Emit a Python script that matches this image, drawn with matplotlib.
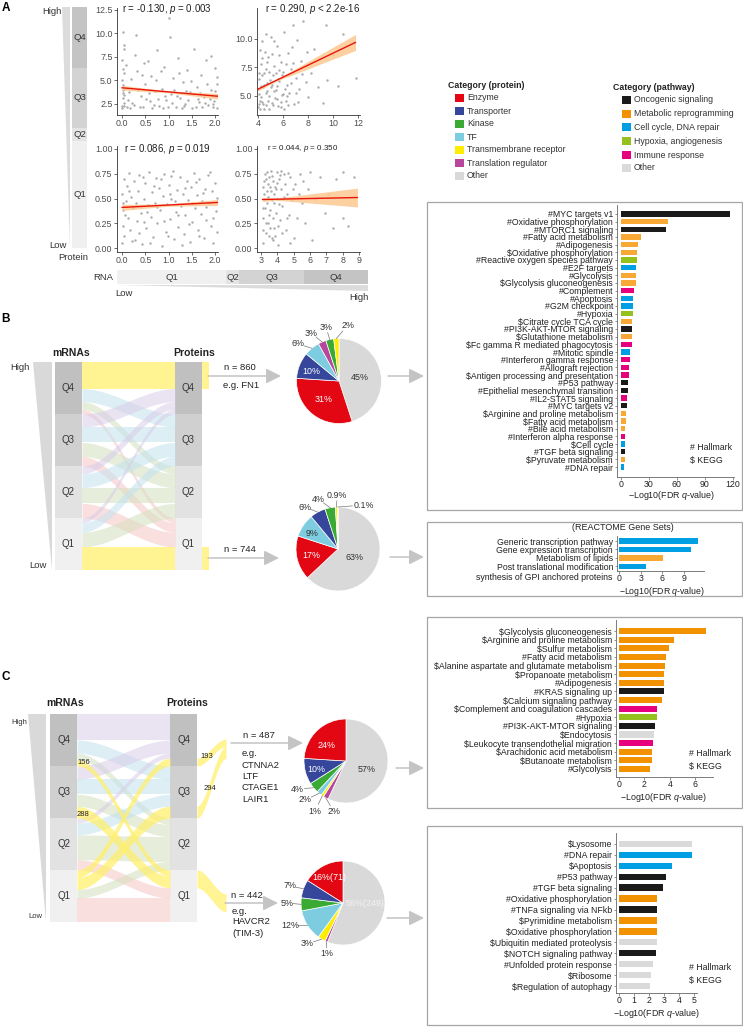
import numpy as np
import matplotlib
matplotlib.use('Agg')
import matplotlib.pyplot as plt
from matplotlib.patches import Rectangle, Polygon

plt.rcParams['font.family'] = ['Liberation Sans', 'DejaVu Sans']
plt.rcParams['mathtext.fontset'] = 'custom'
plt.rcParams['mathtext.rm'] = 'Liberation Sans'
plt.rcParams['mathtext.it'] = 'Liberation Sans:italic'

# ======================= DATA =======================
# Panel A scatter clouds
tl_pts = [(0.0,2.0),(0.02,3.1),(0.01,4.5),(0.03,5.8),(0.0,7.2),(0.05,8.3),(0.02,10.1),(0.04,2.6),
          (0.1,2.2),(0.15,3.8),(0.2,5.1),(0.25,2.4),(0.3,9.8),(0.33,6.0),(0.4,3.3),(0.45,2.1),
          (0.5,4.6),(0.55,7.0),(0.6,2.8),(0.62,5.5),(0.7,3.9),(0.75,8.2),(0.8,2.3),(0.85,4.1),
          (0.9,6.4),(0.95,2.9),(1.0,11.6),(1.02,9.6),(1.05,3.5),(1.1,5.2),(1.15,2.2),(1.2,7.4),
          (1.25,3.1),(1.3,4.8),(1.35,2.5),(1.4,6.1),(1.45,3.7),(1.5,2.0),(1.55,8.3),(1.6,4.3),
          (1.65,2.7),(1.7,5.6),(1.75,3.2),(1.8,7.2),(1.85,2.4),(1.9,4.0),(1.95,2.1),(2.0,6.3),
          (2.02,3.4),(2.04,2.0),(0.08,6.6),(0.12,2.9),(0.35,4.0),(0.65,2.0),(1.12,4.0),(1.62,3.0),
          (1.92,7.6),(0.48,6.8),(0.78,3.0),(1.28,2.0),(0.01,3.6),(0.03,2.3),(0.0,5.0),(0.18,2.0),
          (0.58,3.6),(0.88,2.0),(1.38,3.9),(1.72,2.2),(1.98,2.8),(2.03,4.6),
          (0.0,2.3),(0.02,4.0),(0.01,6.2),(0.03,8.8),(0.05,3.4),(0.22,2.6),(0.38,2.2),(0.52,3.0),
          (0.68,2.4),(0.72,5.0),(0.92,3.3),(0.98,2.2),(1.08,2.6),(1.18,3.3),(1.32,2.3),(1.42,2.9),
          (1.52,3.5),(1.58,2.2),(1.68,3.6),(1.78,2.6),(1.88,3.0),(1.96,2.5),(2.0,3.9),(2.04,5.3),
          (0.27,7.7),(0.42,5.6),(0.83,6.0),(1.22,5.8),(1.47,4.9),(1.83,4.6)]
tr_pts = [(4.0,4.0),(4.1,5.2),(4.05,6.5),(4.2,7.8),(4.15,9.0),(4.3,4.5),(4.4,5.8),(4.5,7.0),
          (4.6,4.2),(4.7,6.1),(4.8,8.4),(4.9,5.0),(5.0,10.2),(5.1,4.4),(5.2,6.8),(5.3,7.6),
          (5.4,5.5),(5.5,9.4),(5.6,4.1),(5.7,6.3),(5.8,8.0),(5.9,5.1),(6.0,7.1),(6.1,10.6),
          (6.2,4.6),(6.3,6.0),(6.4,8.8),(6.5,5.3),(6.6,7.4),(6.8,11.2),(6.9,4.3),(7.0,6.6),
          (7.1,9.9),(7.3,5.6),(7.4,8.1),(7.6,11.6),(7.8,6.2),(8.0,4.9),(8.2,7.0),(8.5,9.1),
          (8.8,5.8),(9.2,4.4),(9.5,6.4),(9.4,11.2),(10.0,8.6),(10.4,5.9),(10.8,10.4),(11.8,6.6),
          (4.25,4.9),(4.55,8.9),(4.85,3.9),(5.25,9.8),(5.65,7.3),(6.05,3.9),(6.35,5.0),(6.75,9.3),
          (7.2,4.5),(7.9,8.9),(4.75,5.4),(5.15,6.0),(4.02,5.6),(4.12,4.6),(4.35,6.8),(4.45,3.9),
          (4.65,7.4),(4.95,6.4),(5.35,4.8),(5.55,5.9),(5.85,4.5),(6.15,5.6),
          (4.05,4.3),(4.1,7.0),(4.2,5.9),(4.3,8.3),(4.4,4.3),(4.5,6.0),(4.6,5.3),(4.7,8.0),
          (4.8,4.6),(4.9,7.1),(5.0,5.8),(5.1,8.7),(5.2,4.2),(5.3,5.4),(5.4,7.0),(5.5,4.7),
          (5.6,6.5),(5.7,8.6),(5.8,4.0),(5.9,6.8),(6.0,5.2),(6.2,7.8),(6.4,4.2),(6.6,6.1),
          (6.8,7.9),(7.0,5.3),(7.5,6.9),(4.15,3.85),(4.35,9.8),(4.6,10.4)]
bl_pts = [(0.00,0.05),(0.01,0.22),(0.02,0.38),(0.00,0.55),(0.03,0.70),(0.05,0.12),(0.08,0.47),
          (0.10,0.63),(0.12,0.30),(0.15,0.76),(0.18,0.18),(0.20,0.52),(0.23,0.40),(0.26,0.68),
          (0.28,0.08),(0.31,0.27),(0.34,0.58),(0.37,0.74),(0.40,0.35),(0.43,0.04),(0.46,0.49),
          (0.49,0.66),(0.52,0.20),(0.55,0.43),(0.58,0.77),(0.61,0.31),(0.64,0.57),(0.67,0.11),
          (0.70,0.45),(0.73,0.71),(0.76,0.25),(0.79,0.61),(0.82,0.38),(0.85,0.02),(0.88,0.53),
          (0.91,0.75),(0.94,0.16),(0.97,0.44),(1.00,0.64),(1.03,0.29),(1.06,0.50),(1.09,0.78),
          (1.12,0.09),(1.15,0.36),(1.18,0.59),(1.21,0.21),(1.24,0.72),(1.27,0.42),(1.30,0.55),
          (1.33,0.14),(1.36,0.33),(1.39,0.68),(1.42,0.48),(1.45,0.06),(1.48,0.62),(1.51,0.26),
          (1.54,0.76),(1.57,0.40),(1.60,0.54),(1.63,0.18),(1.66,0.70),(1.69,0.34),(1.72,0.47),
          (1.75,0.10),(1.78,0.60),(1.81,0.28),(1.84,0.74),(1.87,0.45),(1.90,0.22),(1.93,0.58),
          (1.96,0.05),(1.99,0.66),(2.02,0.37),(2.04,0.51),
          (0.06,0.33),(0.14,0.58),(0.21,0.07),(0.29,0.45),(0.36,0.15),(0.44,0.72),(0.53,0.36),
          (0.60,0.05),(0.68,0.63),(0.75,0.41),(0.83,0.70),(0.90,0.27),(0.98,0.12),(1.05,0.73),
          (1.13,0.47),(1.20,0.33),(1.28,0.03),(1.35,0.61),(1.43,0.24),(1.50,0.45),(1.58,0.67),
          (1.65,0.12),(1.73,0.56),(1.80,0.41),(1.88,0.77),(1.95,0.30),(2.03,0.16),(0.02,0.45),
          (0.47,0.26),(1.02,0.55)]
br_pts = [(3.1,0.05),(3.15,0.3),(3.2,0.55),(3.25,0.75),(3.3,0.15),(3.35,0.45),(3.4,0.65),
          (3.45,0.25),(3.5,0.72),(3.55,0.38),(3.6,0.58),(3.65,0.1),(3.7,0.48),(3.75,0.68),
          (3.8,0.2),(3.85,0.62),(3.9,0.35),(3.95,0.77),(4.0,0.5),(4.05,0.03),(4.1,0.7),
          (4.15,0.28),(4.2,0.6),(4.3,0.42),(4.4,0.75),(4.5,0.18),(4.6,0.55),(4.7,0.33),
          (4.8,0.72),(4.9,0.48),(5.0,0.1),(5.1,0.65),(5.2,0.3),(5.4,0.75),(5.5,0.45),(5.7,0.25),
          (5.9,0.6),(6.0,0.77),(6.1,0.08),(6.3,0.5),(6.6,0.72),(6.9,0.35),(7.1,0.55),(7.4,0.2),
          (7.6,0.7),(8.0,0.3),(8.0,0.77),(8.3,0.22),(8.7,0.72),(3.12,0.62),(3.22,0.4),(3.32,0.7),
          (3.42,0.52),(3.52,0.12),(3.62,0.78),(3.72,0.3),(3.82,0.45),(3.92,0.6),(4.02,0.22),
          (4.25,0.78),
          (3.1,0.4),(3.18,0.68),(3.28,0.25),(3.38,0.58),(3.48,0.33),(3.58,0.2),(3.68,0.73),
          (3.78,0.55),(3.88,0.12),(3.98,0.66),(4.08,0.44),(4.18,0.74),(4.28,0.15),(4.38,0.52),
          (4.48,0.65),(4.58,0.3),(4.68,0.76),(4.78,0.05),(4.95,0.6),(5.3,0.55),(5.6,0.68),
          (3.14,0.18),(3.34,0.77),(3.54,0.62),(3.74,0.08)]
# regression lines and confidence band half-widths
tl_fit = dict(x=[0.0, 2.05], y=[4.2, 3.3], cx=[0.0, 1.0, 2.05], hw=[0.25, 0.1, 0.3])
tr_fit = dict(x=[4.0, 11.8], y=[5.6, 9.7], cx=[4.0, 5.5, 11.8], hw=[0.15, 0.08, 0.7])
bl_fit = dict(x=[0.0, 2.05], y=[0.41, 0.46], cx=[0.0, 1.0, 2.05], hw=[0.03, 0.012, 0.03])
br_fit = dict(x=[3.1, 8.9], y=[0.49, 0.51], cx=[3.1, 3.9, 8.9], hw=[0.02, 0.01, 0.095])
tl_title = r'r = -0.130, $p$ = 0.003'
tr_title = r'r = 0.290, $p$ < 2.2e-16'
bl_title = r'r = 0.086, $p$ = 0.019'
br_title = r'r = 0.044, $p$ = 0.350'

# Legends
protein_cats = ['Enzyme', 'Transporter', 'Kinase', 'TF', 'Transmembrane receptor',
                'Translation regulator', 'Other']
protein_cols = ['#E30613', '#36479B', '#3AAA35', '#7ECCE0', '#FFED00', '#B7479C', '#D9D9D9']
pathway_cats = ['Oncogenic signaling', 'Metabolic reprogramming', 'Cell cycle, DNA repair',
                'Hypoxia, angiogenesis', 'Immune response', 'Other']
pathway_keys = ['onc', 'met', 'cc', 'hyp', 'imm', 'oth']
pathway_cols = ['#1A1A1A', '#F39200', '#009FE3', '#95C11F', '#E6007E', '#DADADA']

# Sankey flow matrices: rows mRNA Q4..Q1, columns protein Q4..Q1
B_flow = np.array([[860, 420, 250, 150],
                   [420, 500, 450, 310],
                   [250, 450, 510, 470],
                   [150, 310, 470, 744]])
B_highlight = [(0, 0), (3, 3)]
C_flow = np.array([[650, 330, 164, 156],
                   [330, 380, 302, 288],
                   [127, 296, 621, 256],
                   [193, 294, 213, 600]])
C_highlight = [(3, 0), (3, 1), (0, 3), (1, 3)]

# Pies (clockwise from 12 o'clock)
pieB1_pct = [45, 31, 10, 6, 3, 3, 2]
pieB1_cat = ['Other', 'Enzyme', 'Transporter', 'TF', 'Translation regulator', 'Kinase', 'Transmembrane receptor']
pieB2_pct = [63, 17, 9, 6, 4, 0.9, 0.1]
pieB2_cat = ['Other', 'Enzyme', 'TF', 'Transporter', 'Kinase', 'Transmembrane receptor', 'Translation regulator']
pieC1_pct = [57, 2, 1, 2, 4, 10, 24]
pieC1_cat = ['Other', 'Translation regulator', 'Transmembrane receptor', 'TF', 'Kinase', 'Transporter', 'Enzyme']
pieC2_pct = [56, 1, 3, 12, 5, 7, 16]
pieC2_cat = ['Other', 'Translation regulator', 'Transmembrane receptor', 'TF', 'Kinase', 'Transporter', 'Enzyme']

# Enrichment bar charts
top_labels = ['#MYC targets v1', '#Oxidative phosphorylation', '#MTORC1 signaling', '#Fatty acid metabolism',
              '#Adipogenesis', '$Oxidative phosphorylation', '#Reactive oxygen species pathway', '#E2F targets',
              '#Glycolysis', '$Glycolysis gluconeogenesis', '#Complement', '#Apoptosis', '#G2M checkpoint',
              '#Hypoxia', '$Citrate cycle TCA cycle', '#PI3K-AKT-MTOR signaling', '$Glutathione metabolism',
              '$Fc gamma R mediated phagocytosis', '#Mitotic spindle', '#Interferon gamma response',
              '#Allograft rejection', '$Antigen processing and presentation', '#P53 pathway',
              '#Epithelial mesenchymal transition', '#IL2-STAT5 signaling', '#MYC targets v2',
              '$Arginine and proline metabolism', '$Fatty acid metabolism', '#Bile acid metabolism',
              '#Interferon alpha response', '$Cell cycle', '#TGF beta signaling', '$Pyruvate metabolism',
              '#DNA repair']
top_vals = [117, 51, 48, 21, 18, 17, 17, 16, 16, 16, 14, 13, 12.5, 12.5, 12, 12, 12, 11.5, 10, 10,
            9, 9, 8, 7.5, 6.5, 6, 5, 5, 4.5, 4, 4, 4, 4, 3.5]
top_cats = ['onc', 'met', 'onc', 'met', 'met', 'met', 'hyp', 'cc', 'met', 'met', 'imm', 'cc', 'cc',
            'hyp', 'met', 'onc', 'met', 'imm', 'cc', 'imm', 'imm', 'imm', 'onc', 'onc', 'imm', 'onc',
            'met', 'met', 'met', 'imm', 'cc', 'onc', 'met', 'cc']

reac_labels = ['Generic transcription pathway', 'Gene expression transcription', 'Metabolism of lipids',
               'Post translational modification', 'synthesis of GPI anchored proteins']
reac_vals = [11.0, 10.0, 6.1, 3.8, 0.0]
reac_cats = ['cc', 'cc', 'met', 'cc', 'cc']

c1_labels = ['$Glycolysis gluconeogenesis', '$Arginine and proline metabolism', '$Sulfur metabolism',
             '#Fatty acid metabolism', '$Alanine aspartate and glutamate metabolism', '$Propanoate metabolism',
             '#Adipogenesis', '#KRAS signaling up', '$Calcium signaling pathway',
             '$Complement and coagulation cascades', '#Hypoxia', '#PI3K-AKT-MTOR signaling', '$Endocytosis',
             '$Leukocyte transendothelial migration', '$Arachidonic acid metabolism', '$Butanoate metabolism',
             '#Glycolysis']
c1_vals = [6.85, 4.3, 3.95, 3.7, 3.6, 3.55, 3.55, 3.55, 3.4, 3.0, 3.0, 2.85, 2.75, 2.65, 2.6, 2.6, 2.45]
c1_cats = ['met', 'met', 'met', 'met', 'met', 'met', 'met', 'onc', 'met', 'imm', 'hyp', 'onc', 'oth',
           'imm', 'met', 'met', 'met']

c2_labels = ['$Lysosome', '#DNA repair', '$Apoptosis', '#P53 pathway', '#TGF beta signaling',
             '#Oxidative phosphorylation', '#TNFa signaling via NFkb', '$Pyrimidine metabolism',
             '$Oxidative phosphorylation', '$Ubiquitin mediated proteolysis', '$NOTCH signaling pathway',
             '#Unfolded protein response', '$Ribosome', '$Regulation of autophagy']
c2_vals = [4.85, 4.85, 3.5, 3.15, 2.95, 2.55, 2.55, 2.55, 2.55, 2.5, 2.45, 2.25, 2.1, 2.05]
c2_cats = ['oth', 'cc', 'cc', 'onc', 'onc', 'met', 'onc', 'met', 'met', 'oth', 'onc', 'oth', 'oth', 'oth']

# ======================= FIGURE =======================
W, H = 743, 1027
fig = plt.figure(figsize=(W / 100, H / 100), dpi=100)


def px_axes(x0, y0, x1, y1):
    return fig.add_axes([x0 / W, 1 - y1 / H, (x1 - x0) / W, (y1 - y0) / H])


bg = px_axes(0, 0, W, H)
bg.set_xlim(0, W)
bg.set_ylim(H, 0)
bg.axis('off')

TXT = '#222222'
pcol = dict(zip(protein_cats, protein_cols))
pwcol = dict(zip(pathway_keys, pathway_cols))


def T(x, y, s, fs=6.5, ha='center', va='center', **kw):
    kw.setdefault('color', TXT)
    bg.text(x, y, s, fontsize=fs, ha=ha, va=va, **kw)


def rect(x0, y0, x1, y1, **kw):
    bg.add_patch(Rectangle((x0, y0), x1 - x0, y1 - y0, **kw))


# ---------- Panel labels ----------
T(6, 8, 'A', fs=8.5, weight='bold', color='black')
T(6, 319, 'B', fs=8.5, weight='bold', color='black')
T(6, 677, 'C', fs=8.5, weight='bold', color='black')

# ---------- Panel A: quartile strips ----------
qgray = {'Q4': '#C4C4C4', 'Q3': '#D3D3D3', 'Q2': '#E4E4E4', 'Q1': '#F0F0F0'}
bg.add_patch(Polygon([(62, 7), (70, 7), (70, 248)], closed=True, color='#DCDCDC', lw=0))
for q, y0, y1 in [('Q4', 7, 68), ('Q3', 68, 128), ('Q2', 128, 141), ('Q1', 141, 248)]:
    rect(72, y0, 87, y1, color=qgray[q], lw=0)
    T(79.5, (y0 + y1) / 2, q, fs=6.8, color='#333333')
T(52, 12, 'High', fs=6.8, color='#333333')
T(58, 245, 'Low', fs=6.8, color='#333333')
T(73, 258, 'Protein', fs=6.8, color='#333333')

for q, x0, x1 in [('Q1', 117, 226), ('Q2', 226, 239), ('Q3', 239, 304), ('Q4', 304, 368)]:
    rect(x0, 270, x1, 284, color=qgray[q], lw=0)
    T((x0 + x1) / 2, 277, q, fs=6.8, color='#333333')
bg.add_patch(Polygon([(117, 285), (368, 285), (368, 291)], closed=True, color='#DCDCDC', lw=0))
T(103, 277, 'RNA', fs=6.8, color='#333333')
T(124, 293, 'Low', fs=6.8, color='#333333')
T(359, 297, 'High', fs=6.8, color='#333333')


def scatter_panel(box, pts, xlim, ylim, xticks, xtl, yticks, ytl, fit):
    ax = px_axes(*box)
    p = np.array(pts)
    ax.scatter(p[:, 0], p[:, 1], s=3.0, c='#ABABAB', linewidths=0, zorder=2)
    xs = np.linspace(fit['x'][0], fit['x'][1], 60)
    ys = np.interp(xs, fit['x'], fit['y'])
    hw = np.interp(xs, fit['cx'], fit['hw'])
    ax.fill_between(xs, ys - hw, ys + hw, color='#FCC88F', alpha=0.85, lw=0, zorder=3)
    ax.plot(fit['x'], fit['y'], color='#E8160C', lw=1.0, zorder=4)
    ax.set_xlim(*xlim)
    ax.set_ylim(*ylim)
    ax.set_xticks(xticks)
    ax.set_xticklabels(xtl, fontsize=6.4)
    ax.set_yticks(yticks)
    ax.set_yticklabels(ytl, fontsize=6.4)
    for s in ['top', 'right']:
        ax.spines[s].set_visible(False)
    for s in ['left', 'bottom']:
        ax.spines[s].set_color('#333333')
        ax.spines[s].set_linewidth(0.6)
    ax.tick_params(length=2, width=0.5, pad=1.2, colors='#333333', labelcolor='#4D4D4D')
    ax.patch.set_alpha(0)
    return ax


scatter_panel((117, 8, 218, 115), tl_pts, (-0.11, 2.06), (1.3, 12.7), [0, 0.5, 1, 1.5, 2],
              ['0.0', '0.5', '1.0', '1.5', '2.0'], [2.5, 5, 7.5, 10, 12.5],
              ['2.5', '5.0', '7.5', '10.0', '12.5'], tl_fit)
scatter_panel((257, 8, 360, 115), tr_pts, (3.92, 12.16), (3.33, 12.72), [4, 6, 8, 10, 12],
              ['4', '6', '8', '10', '12'], [5, 7.5, 10], ['5.0', '7.5', '10.0'], tr_fit)
scatter_panel((117, 146, 218, 252), bl_pts, (-0.11, 2.06), (-0.04, 1.03), [0, 0.5, 1, 1.5, 2],
              ['0.0', '0.5', '1.0', '1.5', '2.0'], [0, 0.25, 0.5, 0.75, 1.0],
              ['0.00', '0.25', '0.50', '0.75', '1.00'], bl_fit)
scatter_panel((257, 146, 360, 252), br_pts, (2.755, 9.06), (-0.04, 1.03), [3, 4, 5, 6, 7, 8, 9],
              ['3', '4', '5', '6', '7', '8', '9'], [0, 0.25, 0.5, 0.75, 1.0],
              ['0.00', '0.25', '0.50', '0.75', '1.00'], br_fit)
T(167, 9, tl_title, fs=7)
T(313, 9, tr_title, fs=7)
T(167, 149, bl_title, fs=7)
T(303, 149, br_title, fs=5.8)

# ---------- Legends ----------
T(448, 86, 'Category (protein)', fs=6.3, ha='left', weight='bold')
for k, (c, col) in enumerate(zip(protein_cats, protein_cols)):
    y = [98, 111, 124, 137, 150, 163, 176][k]
    rect(455, y - 4, 464, y + 4, color=col, lw=0)
    T(467, y, c, fs=6.3, ha='left', color='#333333')
T(613, 87, 'Category (pathway)', fs=6.3, ha='left', weight='bold')
for k, (c, col) in enumerate(zip(pathway_cats, pathway_cols)):
    y = [100, 114, 127, 141, 155, 168][k]
    rect(622, y - 4, 631, y + 4, color=col, lw=0)
    T(634, y, c, fs=6.3, ha='left', color='#333333')

# ---------- Enrichment boxes ----------
for (y0, y1) in [(202, 510), (522, 596), (617, 808), (826, 1025)]:
    rect(427, y0, 742, y1, fill=False, ec='#A6A6A6', lw=0.9)


def bar_panel(box, labels, vals, cats, xlim, xticks, ylim, bar_h, cmap, nlab=None, fs=6.3):
    ax = px_axes(*box)
    y = np.arange(len(vals))
    ax.barh(y, vals, height=bar_h, color=[cmap[c] for c in cats], lw=0)
    ax.set_xlim(*xlim)
    ax.set_ylim(*ylim)
    n = len(labels) if nlab is None else nlab
    ax.set_yticks(y[:n])
    ax.set_yticklabels(labels[:n], fontsize=fs, color=TXT)
    ax.set_xticks(xticks)
    ax.set_xticklabels([str(t) for t in xticks], fontsize=6.3, color=TXT)
    for s in ['top', 'right']:
        ax.spines[s].set_visible(False)
    for s in ['left', 'bottom']:
        ax.spines[s].set_color('#666666')
        ax.spines[s].set_linewidth(0.6)
    ax.tick_params(length=1.8, width=0.5, pad=1.0, colors='#666666')
    ax.tick_params(axis='x', pad=0.4)
    ax.tick_params(labelcolor=TXT)
    ax.patch.set_alpha(0)
    return ax


top_map = dict(pwcol)
top_map['met'] = '#F7A835'
bar_panel((617, 205, 734, 477), top_labels, top_vals, top_cats, (-4.3, 121.5),
          [0, 30, 60, 90, 120], (34.3, -1.17), 0.68, top_map)
T(690, 447, '# Hallmark', fs=6.3, ha='left')
T(690, 461, '$ KEGG', fs=6.3, ha='left')
T(672, 496, r'−Log10(FDR $q$-value)', fs=6.4)

bar_panel((617, 536, 704, 571), reac_labels, reac_vals, reac_cats, (-0.3, 11.8),
          [0, 3, 6, 9], (3.55, -0.6), 0.62, top_map, nlab=4)
T(612, 577, reac_labels[4], fs=6.3, ha='right')
T(623, 528, '(REACTOME Gene Sets)', fs=6.5)
T(662, 591, r'−Log10(FDR $q$-value)', fs=6.3)

bar_panel((616, 620, 713, 777), c1_labels, c1_vals, c1_cats, (-0.24, 7.4),
          [0, 2, 4, 6], (16.93, -1.28), 0.7, pwcol)
T(689, 754, '# Hallmark', fs=6.3, ha='left')
T(689, 767, '$ KEGG', fs=6.3, ha='left')
T(664, 798, r'−Log10(FDR $q$-value)', fs=6.4)

bar_panel((616, 833, 697, 993), c2_labels, c2_vals, c2_cats, (-0.2, 5.2),
          [0, 1, 2, 3, 4, 5], (13.64, -1.0), 0.58, pwcol)
T(689, 967, '# Hallmark', fs=6.3, ha='left')
T(689, 980, '$ KEGG', fs=6.3, ha='left')
T(657, 1013, r'−Log10(FDR $q$-value)', fs=6.4)

# ---------- Sankey diagrams ----------
dest_cols = ['#D8CCE8', '#C2E3EE', '#D4DFBE', '#F6C6C6']
YEL = '#FFEF6E'
sq_cols = ['#C0C0C0', '#D0D0D0', '#E2E2E2', '#F0F0F0']


def smooth_band(x0, x1, y0t, y0b, y1t, y1b, color, alpha, z):
    x = np.linspace(x0, x1, 60)
    t = (x - x0) / (x1 - x0)
    s = t * t * (3 - 2 * t)
    top = y0t + (y1t - y0t) * s
    bot = y0b + (y1b - y0b) * s
    bg.fill_between(x, top, bot, color=color, alpha=alpha, lw=0, zorder=z)


def sankey(M, xl, xr, ytop, qh, bw, highlight, tail_rect=0, tail_groups=None):
    rows = M.sum(1)
    cols = M.sum(0)
    qn = ['Q4', 'Q3', 'Q2', 'Q1']
    for k in range(4):
        for x0 in (xl, xr):
            rect(x0, ytop + k * qh, x0 + bw, ytop + (k + 1) * qh, color=sq_cols[k], lw=0, zorder=1)
            T(x0 + bw / 2, ytop + (k + 0.5) * qh, qn[k], fs=7, color='#333333', zorder=5)
    so = np.zeros(4)
    to = np.zeros(4)
    segs = {}
    for i in range(4):
        for j in range(4):
            hs = M[i, j] / rows[i] * qh
            ht = M[i, j] / cols[j] * qh
            y0t = ytop + i * qh + so[i]
            y1t = ytop + j * qh + to[j]
            so[i] += hs
            to[j] += ht
            segs[(i, j)] = (y0t, y0t + hs, y1t, y1t + ht)
    for (i, j), (a, b, c, d) in segs.items():
        if (i, j) in highlight:
            continue
        smooth_band(xl + bw, xr, a, b, c, d, dest_cols[j], 0.55, 2)
    for (i, j) in highlight:
        a, b, c, d = segs[(i, j)]
        smooth_band(xl + bw, xr, a, b, c, d, YEL, 0.75, 3)
        if tail_rect:
            rect(xr + bw, c, xr + bw + tail_rect, d, color=YEL, alpha=0.75, lw=0, zorder=3)
    if tail_groups:
        for flows, tx, ty in tail_groups:
            off = ty
            for (i, j) in flows:
                a, b, c, d = segs[(i, j)]
                h = d - c
                smooth_band(xr + bw, tx, c, d, off, off + h, YEL, 0.75, 3)
                off += h
    return segs


# Panel B sankey
bg.add_patch(Polygon([(33, 362), (52, 362), (52, 570)], closed=True, color='#D9D9D9', lw=0))
sankey(B_flow, 55, 175, 362, 52, 27, B_highlight, tail_rect=7)
T(71.5, 353, 'mRNAs', fs=7.5, weight='bold')
T(194.5, 353, 'Proteins', fs=7.5, weight='bold')
T(20, 368, 'High', fs=6.8, color='#333333')
T(38, 566, 'Low', fs=6.8, color='#333333')

# Panel C sankey
bg.add_patch(Polygon([(28, 714), (46, 714), (46, 922)], closed=True, color='#D9D9D9', lw=0))
sc = sankey(C_flow, 50, 170, 714, 52, 27, C_highlight,
            tail_groups=[([(3, 0), (3, 1)], 226, 739), ([(0, 3), (1, 3)], 226, 894)])
T(65, 703, 'mRNAs', fs=7.5, weight='bold')
T(187.5, 703, 'Proteins', fs=7.5, weight='bold')
T(19, 722, 'High', fs=5.5, color='#333333')
T(35, 917, 'Low', fs=5.5, color='#333333')
T(77, 763, str(C_flow[0, 3]), fs=5.5, ha='left', zorder=6)
T(77, 814, str(C_flow[1, 3]), fs=5.5, ha='left', zorder=6)
T(207, 756, str(C_flow[3, 0]), fs=5.5, zorder=6)
T(210, 788, str(C_flow[3, 1]), fs=5.5, zorder=6)


# ---------- Arrows and annotations ----------
def arrow(x0, x1, y):
    bg.annotate('', xy=(x1, y), xytext=(x0, y),
                arrowprops=dict(arrowstyle='-|>,head_length=0.9,head_width=0.45', color='#C4C4C4',
                                lw=1.1, shrinkA=0, shrinkB=0, mutation_scale=10))


arrow(208, 281, 376)
arrow(208, 279, 558)
arrow(388, 424, 376)
arrow(390, 424, 557)
arrow(231, 303, 743)
arrow(225, 278, 903)
arrow(396, 424, 768)
arrow(387, 424, 918)

T(240, 368, 'n = 860', fs=6.8)
T(241, 386, 'e.g. FN1', fs=6.8)
T(240, 550, 'n = 744', fs=6.8)
T(243, 736, 'n = 487', fs=6.8, ha='left')
for k, s in enumerate(['e.g.', 'CTNNA2', 'LTF', 'CTAGE1', 'LAIR1']):
    T(242, 754 + k * 11.3, s, fs=6.8, ha='left')
T(231, 896, 'n = 442', fs=6.8, ha='left')
for k, s in enumerate(['e.g.', 'HAVCR2', '(TIM-3)']):
    T(232, 911 + k * 11, s, fs=6.8, ha='left')


# ---------- Pies ----------
def pie_panel(cx, cy, R, pct, cats, inside, outside):
    ax = px_axes(cx - 75, cy - 75, cx + 75, cy + 75)
    ax.pie(pct, colors=[pcol[c] for c in cats], startangle=90, counterclock=False, radius=R,
           wedgeprops=dict(edgecolor='white', linewidth=0.5))
    ax.set_xlim(-75, 75)
    ax.set_ylim(-75, 75)
    ax.set_aspect('equal')
    ax.axis('off')
    fr = np.array(pct, float) / np.sum(pct)
    cum = np.concatenate([[0], np.cumsum(fr)])
    mids = np.deg2rad(90 - 360 * (cum[:-1] + fr / 2))
    for s, dx, dy, col in inside:
        ax.text(dx, dy, s, fontsize=6.4, ha='center', va='center', color=col)
    for s, dx, dy, idx in outside:
        p0 = np.array([R * np.cos(mids[idx]), R * np.sin(mids[idx])])
        L = np.array([dx, dy])
        p1 = p0 + (L - p0) * 0.55
        ax.plot([p0[0], p1[0]], [p0[1], p1[1]], color='#777777', lw=0.5)
        ax.text(dx, dy, s, fontsize=6.4, ha='center', va='center', color='#333333')


pie_panel(339, 381, 42.5, pieB1_pct, pieB1_cat,
          [('45%', 21, 4, '#333333'), ('31%', -15, -19, 'white'), ('10%', -28, 10, 'white')],
          [('6%', -41, 37, 3), ('3%', -28, 48, 4), ('3%', -13, 54, 5), ('2%', 9, 56, 6)])
pie_panel(338, 549, 42, pieB2_pct, pieB2_cat,
          [('63%', 17, -9, '#333333'), ('17%', -27, -6, 'white'), ('9%', -26, 16, '#333333')],
          [('6%', -33, 42, 3), ('4%', -20, 50, 4), ('0.9%', -1, 53, 5), ('0.1%', 26, 44, 6)])
pie_panel(346, 761, 42, pieC1_pct, pieC1_cat,
          [('24%', -19, 15, 'white'), ('10%', -30, -9, 'white'), ('57%', 21, -8, '#333333')],
          [('4%', -49, -28, 4), ('2%', -41, -39, 3), ('1%', -31, -50, 2), ('2%', -12, -51, 1)])
pie_panel(343, 903, 42, pieC2_pct, pieC2_cat,
          [('16%(71)', -14, 26, 'white'), ('56%(249)', 22, 0, '#F2F2F2')],
          [('7%', -53, 17, 5), ('5%', -56, 0, 4), ('12%', -53, -23, 3), ('3%', -36, -41, 2),
           ('1%', -16, -50, 1)])

fig.savefig('out.png', dpi=100)
